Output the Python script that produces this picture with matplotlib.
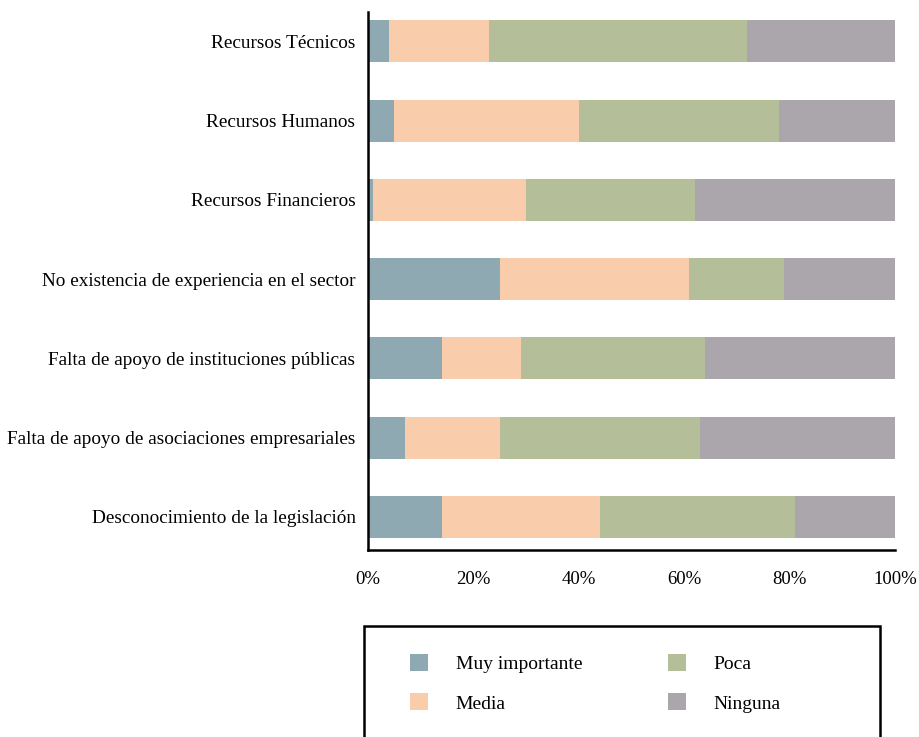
import matplotlib
matplotlib.use("Agg")
import matplotlib.pyplot as plt
from matplotlib.patches import Rectangle
import numpy as np

plt.rcParams['font.family'] = ['Liberation Serif', 'DejaVu Serif']

categories = [
    "Recursos Técnicos",
    "Recursos Humanos",
    "Recursos Financieros",
    "No existencia de experiencia en el sector",
    "Falta de apoyo de instituciones públicas",
    "Falta de apoyo de asociaciones empresariales",
    "Desconocimiento de la legislación",
]
series_names = ["Muy importante", "Media", "Poca", "Ninguna"]
muy_importante = [4, 5, 1, 25, 14, 7, 14]
media = [19, 35, 29, 36, 15, 18, 30]
poca = [49, 38, 32, 18, 35, 38, 37]
ninguna = [28, 22, 38, 21, 36, 37, 19]
x_ticks = [0, 20, 40, 60, 80, 100]
x_tick_labels = ["0%", "20%", "40%", "60%", "80%", "100%"]

colors = ["#8fa9b3", "#f9cdab", "#b4bf9a", "#aba6ab"]

fig = plt.figure(figsize=(9.2, 7.37), dpi=100)
ax = fig.add_axes([0.4, 0.2537, 0.5728, 0.73])

y = np.arange(len(categories))
data = np.array([muy_importante, media, poca, ninguna], dtype=float)
totals = data.sum(axis=0)
pct = data / totals * 100
left = np.zeros(len(categories))
handles = []
for name, vals, c in zip(series_names, pct, colors):
    b = ax.barh(y, vals, left=left, height=0.53, color=c, label=name)
    handles.append(b)
    left += vals

ax.set_xlim(0, 100)
ax.set_ylim(6.42, -0.37)
ax.set_yticks(y)
ax.set_yticklabels(categories, fontsize=13.9)
ax.set_xticks(x_ticks)
ax.set_xticklabels(x_tick_labels, fontsize=13.5)
ax.tick_params(axis='y', length=0, pad=9)
ax.tick_params(axis='x', length=0, pad=15)
for s in ["top", "right"]:
    ax.spines[s].set_visible(False)
for s in ["left", "bottom"]:
    ax.spines[s].set_linewidth(1.8)
    ax.spines[s].set_color("black")

# legend frame running off the bottom edge
fig.patches.append(Rectangle((364 / 920, -0.05), (880 - 364) / 920, 0.05 + (737 - 626) / 737,
                             transform=fig.transFigure, fill=False,
                             edgecolor="black", linewidth=1.8))
fig.legend(handles=handles, labels=series_names, ncol=2, frameon=False,
           loc="upper left", bbox_to_anchor=(410 / 920, 1 - 654 / 737),
           borderpad=0, borderaxespad=0,
           fontsize=14, handlelength=0.95, handleheight=0.95,
           columnspacing=4.4, handletextpad=1.4, labelspacing=1.05)

fig.savefig("out.png", dpi=100)
